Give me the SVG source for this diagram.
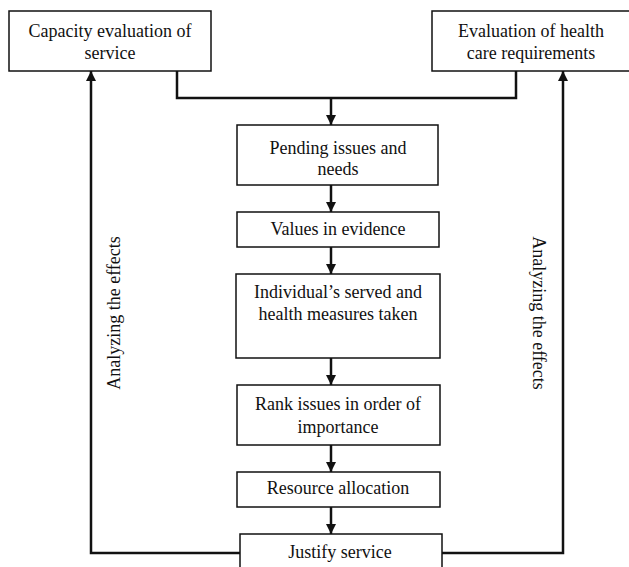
<svg xmlns="http://www.w3.org/2000/svg" width="629" height="567" viewBox="0 0 629 567">
<style>
.box{fill:#fff;stroke:#111;stroke-width:1.5}
.t{font-family:"Liberation Serif","Times New Roman",serif;font-size:18px;fill:#111;text-anchor:middle}
.c{fill:none;stroke:#111;stroke-width:2.5}
</style>
<defs>
<marker id="ah" markerUnits="userSpaceOnUse" markerWidth="10" markerHeight="12" refX="10" refY="5" orient="auto">
<path d="M0 0 L10 5 L0 10 Z" fill="#111"/>
</marker>
</defs>
<rect width="629" height="567" fill="#fff"/>
<g id="connectors">
<path class="c" d="M177 71 V98 H516 V71"/>
<path class="c" d="M331 98 V125" marker-end="url(#ah)"/>
<path class="c" d="M331 185 V212" marker-end="url(#ah)"/>
<path class="c" d="M331 247 V274" marker-end="url(#ah)"/>
<path class="c" d="M331 358 V385" marker-end="url(#ah)"/>
<path class="c" d="M331 445 V472" marker-end="url(#ah)"/>
<path class="c" d="M331 507 V534" marker-end="url(#ah)"/>
<path class="c" d="M240 553 H91 V71" marker-end="url(#ah)"/>
<path class="c" d="M442 553 H563 V71" marker-end="url(#ah)"/>
</g>
<g id="capacity">
<rect class="box" x="9" y="11" width="202" height="60"/>
<text class="t" x="110" y="37">Capacity evaluation of</text>
<text class="t" x="110" y="59">service</text>
</g>
<g id="evaluation">
<rect class="box" x="432" y="11" width="200" height="60"/>
<text class="t" x="531" y="37">Evaluation of health</text>
<text class="t" x="531" y="59">care requirements</text>
</g>
<g id="pending">
<rect class="box" x="237" y="125" width="201" height="60"/>
<text class="t" x="338" y="154">Pending issues and</text>
<text class="t" x="338" y="175">needs</text>
</g>
<g id="values">
<rect class="box" x="237" y="212" width="202" height="35"/>
<text class="t" x="338" y="235">Values in evidence</text>
</g>
<g id="individual">
<rect class="box" x="236" y="274" width="204" height="84"/>
<text class="t" x="338" y="298">Individual’s served and</text>
<text class="t" x="338" y="320">health measures taken</text>
</g>
<g id="rank">
<rect class="box" x="237" y="385" width="203" height="60"/>
<text class="t" x="338" y="410">Rank issues in order of</text>
<text class="t" x="338" y="433">importance</text>
</g>
<g id="resource">
<rect class="box" x="237" y="472" width="203" height="35"/>
<text class="t" x="338" y="494">Resource allocation</text>
</g>
<g id="justify">
<rect class="box" x="240" y="534" width="202" height="40"/>
<text class="t" x="340" y="558">Justify service</text>
</g>
<g id="label-left">
<text class="t" transform="translate(120 313) rotate(-90)">Analyzing the effects</text>
</g>
<g id="label-right">
<text class="t" transform="translate(533 313) rotate(90)">Analyzing the effects</text>
</g>
</svg>
